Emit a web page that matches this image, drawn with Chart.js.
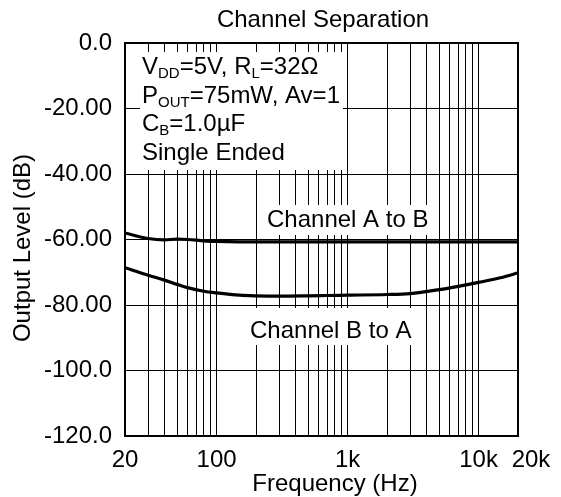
<!DOCTYPE html>
<html>
<head>
<meta charset="utf-8">
<script src="https://cdn.jsdelivr.net/npm/chart.js@4.4.1/dist/chart.umd.min.js"></script>
<style>
  html, body { margin: 0; padding: 0; background: #fff; }
  canvas { display: block; }
</style>
</head>
<body>
<canvas id="sep_chart" width="561" height="497"></canvas>
<script>
// frequencies (Hz) the curves were read at
const freqs = [20, 30, 40, 50, 60, 80, 100, 150, 200, 300, 500, 700, 1000, 2000, 3000, 5000, 7000, 10000, 15000, 20000];
// Channel A to B (dB)
const chanAtoB = [-58.0, -59.7, -60.1, -59.9, -60.0, -60.4, -60.6, -60.7, -60.7, -60.7, -60.7, -60.7, -60.7, -60.7, -60.7, -60.7, -60.7, -60.7, -60.7, -60.7];
// Channel B to A (dB)
const chanBtoA = [-68.6, -70.9, -72.4, -73.7, -74.7, -75.8, -76.3, -77.0, -77.2, -77.3, -77.2, -77.1, -77.0, -76.8, -76.5, -75.3, -74.3, -73.1, -71.6, -70.2];

const xTickValues = [20, 100, 1000, 10000, 20000];
const xTickLabels = ['20', '100', '1k', '10k', '20k'];
const yTickValues = [0, -20, -40, -60, -80, -100, -120];
const yTickLabels = ['0.0', '-20.00', '-40.00', '-60.00', '-80.00', '-100.0', '-120.0'];

const FONT = '"Liberation Sans", Arial, sans-serif';
const FSIZE = 24;

function to_points(xs, ys) {
  return xs.map(function (x, i) { return { x: x, y: ys[i] }; });
}

// log grid: 20,30..90,100,200..900,...,20000
function log_grid_values(min, max) {
  let vals = [];
  for (let dec = 10; dec <= max; dec *= 10) {
    for (let m = 1; m <= 9; m++) {
      let v = m * dec;
      if (v >= min && v <= max) vals.push(v);
    }
  }
  return vals;
}

// draws text with subscript parts; parts = [[text, isSub], ...]
function draw_rich(ctx, parts, x, y) {
  let cx = x;
  parts.forEach(function (p) {
    ctx.font = (p[1] ? 15 : FSIZE) + 'px ' + FONT;
    ctx.fillText(p[0], cx, p[1] ? y + 4 : y);
    cx += ctx.measureText(p[0]).width;
  });
}

function white_box(ctx, x, y, w, h) {
  ctx.fillStyle = '#fff';
  ctx.fillRect(x, y, w, h);
}

const textPlugin = {
  id: 'sepText',
  beforeDatasetsDraw(chart) {
    const ctx = chart.ctx;
    const a = chart.chartArea;
    ctx.save();

    // condition box
    white_box(ctx, 140, 52, 203, 118);
    ctx.fillStyle = '#000';
    ctx.textAlign = 'left';
    ctx.textBaseline = 'alphabetic';
    draw_rich(ctx, [['V', false], ['DD', true], ['=5V, R', false], ['L', true], ['=32\u03A9', false]], 142, 74);
    draw_rich(ctx, [['P', false], ['OUT', true], ['=75mW, Av=1', false]], 142, 103);
    draw_rich(ctx, [['C', false], ['B', true], ['=1.0\u00B5F', false]], 142, 131);
    draw_rich(ctx, [['Single Ended', false]], 142, 160);

    // curve labels
    white_box(ctx, 262, 205, 172, 30);
    white_box(ctx, 246, 308, 170, 37);
    ctx.fillStyle = '#000';
    ctx.font = FSIZE + 'px ' + FONT;
    ctx.fillText('Channel A to B', 267, 227);
    ctx.fillText('Channel B to A', 250, 338);

    // plot frame
    ctx.strokeStyle = '#000';
    ctx.lineWidth = 2;
    ctx.strokeRect(a.left, a.top, a.right - a.left, a.bottom - a.top);
    ctx.restore();
  },
  afterDraw(chart) {
    const ctx = chart.ctx;
    const xs = chart.scales.x;
    ctx.save();
    ctx.fillStyle = '#000';
    ctx.font = FSIZE + 'px ' + FONT;
    ctx.textBaseline = 'alphabetic';
    ctx.textAlign = 'center';
    ctx.fillText('Channel Separation', 323, 27);
    ctx.fillText('Frequency (Hz)', 335, 491);
    xTickValues.forEach(function (v, i) {
      let px = xs.getPixelForValue(v);
      if (i === xTickValues.length - 1) px += 13; // last label sits right of the edge
      ctx.fillText(xTickLabels[i], px, 467);
    });
    ctx.translate(23, 248);
    ctx.rotate(-Math.PI / 2);
    ctx.textBaseline = 'middle';
    ctx.fillText('Output Level (dB)', 0, 0);
    ctx.restore();
  }
};

function create_sep_chart(canvas_id) {
  const gridFreqs = log_grid_values(20, 20000);
  let chart = new Chart(document.getElementById(canvas_id), {
    type: 'line',
    data: {
      datasets: [
        {
          label: 'Channel A to B',
          data: to_points(freqs, chanAtoB),
          borderColor: '#000',
          borderWidth: 3.2,
          pointRadius: 0,
          cubicInterpolationMode: 'monotone',
          fill: false
        },
        {
          label: 'Channel B to A',
          data: to_points(freqs, chanBtoA),
          borderColor: '#000',
          borderWidth: 3.2,
          pointRadius: 0,
          cubicInterpolationMode: 'monotone',
          fill: false
        }
      ]
    },
    options: {
      responsive: false,
      animation: false,
      devicePixelRatio: 1,
      layout: { padding: { top: 43, right: 43, bottom: 61, left: 0 } },
      plugins: {
        legend: { display: false },
        title: { display: false },
        tooltip: { enabled: false }
      },
      scales: {
        x: {
          type: 'logarithmic',
          min: 20,
          max: 20000,
          afterBuildTicks: function (scale) {
            scale.ticks = gridFreqs.map(function (v) { return { value: v }; });
          },
          afterFit: function (scale) { scale.height = 0; },
          ticks: { display: false },
          grid: { color: '#000', lineWidth: 1, drawTicks: false },
          border: { display: false }
        },
        y: {
          min: -120,
          max: 0,
          afterBuildTicks: function (scale) {
            scale.ticks = yTickValues.map(function (v) { return { value: v }; });
          },
          afterFit: function (scale) { scale.width = 125; },
          ticks: {
            color: '#000',
            padding: 13,
            font: { family: FONT, size: FSIZE },
            callback: function (value) {
              let i = yTickValues.indexOf(value);
              return i >= 0 ? yTickLabels[i] : '';
            }
          },
          grid: { color: '#000', lineWidth: 1, drawTicks: false },
          border: { display: false }
        }
      }
    },
    plugins: [textPlugin]
  });
  return chart;
}

create_sep_chart('sep_chart');
</script>
</body>
</html>
